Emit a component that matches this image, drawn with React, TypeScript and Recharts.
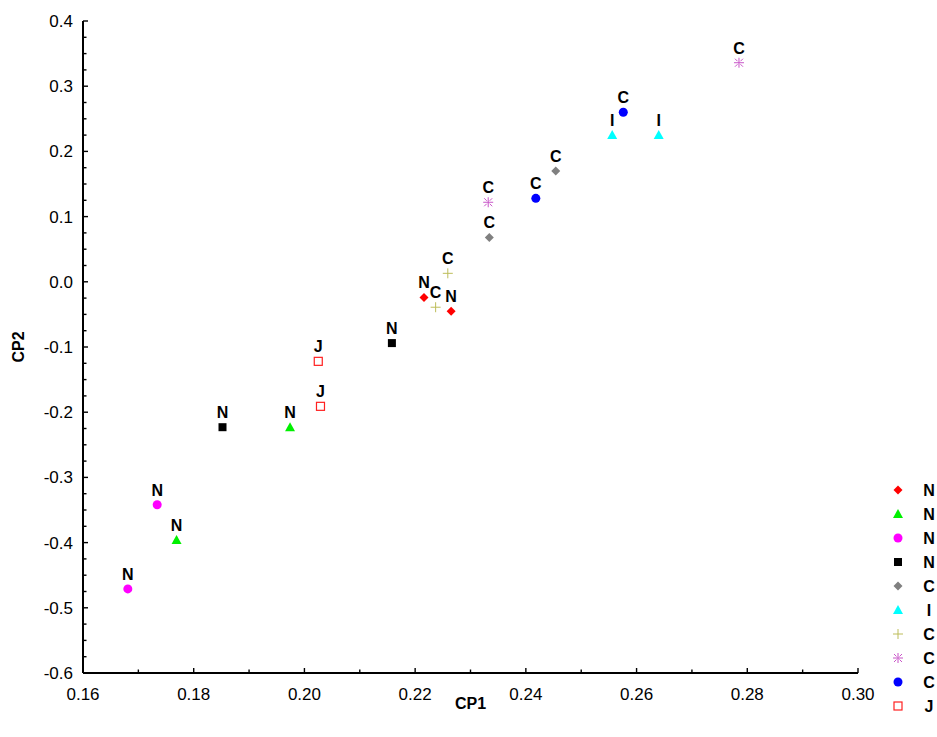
import React from 'react';
import { ScatterChart, Scatter, XAxis, YAxis, Legend, Label } from 'recharts';

const FONT = 'Liberation Sans, Arial, sans-serif';

// Tick values and labels
const xMajor = [0.16, 0.18, 0.2, 0.22, 0.24, 0.26, 0.28, 0.3];
const xMajorLabels = ['0.16', '0.18', '0.20', '0.22', '0.24', '0.26', '0.28', '0.30'];
const xMinorStep = 0.01;
const yMajor = [-0.6, -0.5, -0.4, -0.3, -0.2, -0.1, 0.0, 0.1, 0.2, 0.3, 0.4];
const yMajorLabels = ['-0.6', '-0.5', '-0.4', '-0.3', '-0.2', '-0.1', '0.0', '0.1', '0.2', '0.3', '0.4'];
const yMinorStep = 0.025;

// Series data
const redDiamondX = [0.2216, 0.2265];
const redDiamondY = [-0.024, -0.045];
const greenTriX = [0.1974, 0.1769];
const greenTriY = [-0.223, -0.396];
const magentaCircX = [0.1734, 0.1681];
const magentaCircY = [-0.342, -0.471];
const blackSqX = [0.1852, 0.2158];
const blackSqY = [-0.223, -0.094];
const grayDiaX = [0.2334, 0.2454];
const grayDiaY = [0.068, 0.17];
const cyanTriX = [0.2556, 0.264];
const cyanTriY = [0.225, 0.225];
const olivePlusX = [0.2259, 0.2237];
const olivePlusY = [0.013, -0.039];
const purpleAstX = [0.2332, 0.2785];
const purpleAstY = [0.122, 0.336];
const blueCircX = [0.2418, 0.2576];
const blueCircY = [0.128, 0.26];
const redSqX = [0.2025, 0.2029];
const redSqY = [-0.122, -0.191];

const seriesNames = ['N', 'N', 'N', 'N', 'C', 'I', 'C', 'C', 'C', 'J'];
const seriesShapes = ['diamond', 'triangle', 'circle', 'square', 'diamond', 'triangle', 'plus', 'asterisk', 'circle', 'hollowSquare'];
const seriesColors = ['#FF0000', '#00F000', '#FF00FF', '#000000', '#808080', '#00FFFF', '#BDBD5A', '#C855C8', '#0000FF', '#FF2020'];
const seriesX = [redDiamondX, greenTriX, magentaCircX, blackSqX, grayDiaX, cyanTriX, olivePlusX, purpleAstX, blueCircX, redSqX];
const seriesY = [redDiamondY, greenTriY, magentaCircY, blackSqY, grayDiaY, cyanTriY, olivePlusY, purpleAstY, blueCircY, redSqY];

const buildTicks = (major: number[], step: number) => {
  const out: number[] = [];
  for (let i = 0; i < major.length; i++) {
    out.push(major[i]);
    if (i < major.length - 1) {
      const n = Math.round((major[i + 1] - major[i]) / step);
      for (let k = 1; k < n; k++) out.push(Math.round((major[i] + k * step) * 10000) / 10000);
    }
  }
  return out;
};
const xTicks = buildTicks(xMajor, xMinorStep);
const yTicks = buildTicks(yMajor, yMinorStep);

const majorIndex = (v: number, major: number[]) => major.findIndex((m) => Math.abs(m - v) < 1e-6);

const drawMarker = (shape: string, cx: number, cy: number, color: string) => {
  switch (shape) {
    case 'diamond':
      return <polygon points={`${cx},${cy - 4.5} ${cx + 4.5},${cy} ${cx},${cy + 4.5} ${cx - 4.5},${cy}`} fill={color} />;
    case 'triangle':
      return <polygon points={`${cx},${cy - 5} ${cx + 5},${cy + 4} ${cx - 5},${cy + 4}`} fill={color} />;
    case 'circle':
      return <circle cx={cx} cy={cy} r={4.5} fill={color} />;
    case 'square':
      return <rect x={cx - 4} y={cy - 4} width={8} height={8} fill={color} />;
    case 'hollowSquare':
      return <rect x={cx - 4} y={cy - 4} width={8} height={8} fill="#fff" stroke={color} strokeWidth={1.2} />;
    case 'plus':
      return (
        <g stroke={color} strokeWidth={1}>
          <line x1={cx - 5} x2={cx + 5} y1={cy} y2={cy} />
          <line x1={cx} x2={cx} y1={cy - 5} y2={cy + 5} />
        </g>
      );
    case 'asterisk':
      return (
        <g stroke={color} strokeWidth={1}>
          <line x1={cx - 5} x2={cx + 5} y1={cy} y2={cy} />
          <line x1={cx} x2={cx} y1={cy - 5} y2={cy + 5} />
          <line x1={cx - 4} x2={cx - 1.5} y1={cy - 4} y2={cy - 1.5} />
          <line x1={cx + 1.5} x2={cx + 4} y1={cy + 1.5} y2={cy + 4} />
          <line x1={cx + 4} x2={cx + 1.5} y1={cy - 4} y2={cy - 1.5} />
          <line x1={cx - 1.5} x2={cx - 4} y1={cy + 1.5} y2={cy + 4} />
        </g>
      );
    default:
      return null;
  }
};

const makeShape = (idx: number) => (props: any) => {
  const { cx, cy } = props;
  if (cx == null || cy == null) return <g />;
  return (
    <g>
      {drawMarker(seriesShapes[idx], cx, cy, seriesColors[idx])}
      <text x={cx} y={cy - 9} textAnchor="middle" fontFamily={FONT} fontWeight="bold" fontSize={16} fill="#000">
        {seriesNames[idx]}
      </text>
    </g>
  );
};

const TICK_W = 1.4;

const BottomTick = (props: any) => {
  const { x, y, payload } = props;
  const mi = majorIndex(payload.value, xMajor);
  return (
    <g>
      <line x1={x} x2={x} y1={y} y2={y - (mi >= 0 ? 5 : 3.5)} stroke="#000" strokeWidth={TICK_W} />
      {mi >= 0 && (
        <text x={x} y={y + 27} textAnchor="middle" fontFamily={FONT} fontSize={17} fill="#000">
          {xMajorLabels[mi]}
        </text>
      )}
    </g>
  );
};
const TopTick = (props: any) => {
  const { x, y, payload } = props;
  const mi = majorIndex(payload.value, xMajor);
  return <line x1={x} x2={x} y1={y} y2={y + (mi >= 0 ? 5 : 3.5)} stroke="#000" strokeWidth={TICK_W} />;
};
const LeftTick = (props: any) => {
  const { x, y, payload } = props;
  const mi = majorIndex(payload.value, yMajor);
  return (
    <g>
      <line x1={x} x2={x + (mi >= 0 ? 5 : 3.5)} y1={y} y2={y} stroke="#000" strokeWidth={TICK_W} />
      {mi >= 0 && (
        <text x={x - 10} y={y + 6} textAnchor="end" fontFamily={FONT} fontSize={17} fill="#000">
          {yMajorLabels[mi]}
        </text>
      )}
    </g>
  );
};
const RightTick = (props: any) => {
  const { x, y, payload } = props;
  const mi = majorIndex(payload.value, yMajor);
  return <line x1={x} x2={x - (mi >= 0 ? 5 : 3.5)} y1={y} y2={y} stroke="#000" strokeWidth={TICK_W} />;
};

const LegendBox = () => (
  <svg width={52} height={245} style={{ display: 'block' }}>
    {seriesNames.map((name, i) => {
      const cy = 12 + i * 24;
      return (
        <g key={i}>
          {drawMarker(seriesShapes[i], 13, cy, seriesColors[i])}
          <text x={44} y={cy + 6} textAnchor="middle" fontFamily={FONT} fontWeight="bold" fontSize={16} fill="#000">
            {name}
          </text>
        </g>
      );
    })}
  </svg>
);

const axisLine = { stroke: '#000', strokeWidth: 2 };

export default function App() {
  return (
    <div style={{ position: 'absolute', left: 0, top: 0, width: 937, height: 737, background: '#fff' }}>
      <ScatterChart width={937} height={737} margin={{ top: 21, right: 79, bottom: 24, left: 23 }}>
        <XAxis
          xAxisId={0}
          type="number"
          dataKey="x"
          domain={[0.16, 0.3]}
          ticks={xTicks}
          interval={0}
          allowDataOverflow
          height={40}
          tickSize={0}
          tickMargin={0}
          stroke="#000"
          axisLine={axisLine}
          tickLine={false}
          tick={<BottomTick />}
        >
          <Label
            content={(p: any) => {
              const vb = p.viewBox || {};
              return (
                <text x={vb.x + vb.width / 2} y={709} textAnchor="middle" fontFamily={FONT} fontWeight="bold" fontSize={16} fill="#000">
                  CP1
                </text>
              );
            }}
          />
        </XAxis>
        <XAxis
          xAxisId="top"
          orientation="top"
          type="number"
          dataKey="x"
          domain={[0.16, 0.3]}
          ticks={xTicks}
          interval={0}
          allowDataOverflow
          height={0}
          tickSize={0}
          tickMargin={0}
          stroke="#000"
          axisLine={axisLine}
          tickLine={false}
          tick={<TopTick />}
        />
        <YAxis
          yAxisId={0}
          type="number"
          dataKey="y"
          domain={[-0.6, 0.4]}
          ticks={yTicks}
          interval={0}
          allowDataOverflow
          width={60}
          tickSize={0}
          tickMargin={0}
          stroke="#000"
          axisLine={axisLine}
          tickLine={false}
          tick={<LeftTick />}
        >
          <Label
            content={(p: any) => {
              const vb = p.viewBox || {};
              const cy = vb.y + vb.height / 2;
              return (
                <text x={24} y={cy} transform={`rotate(-90 24 ${cy})`} textAnchor="middle" fontFamily={FONT} fontWeight="bold" fontSize={16} fill="#000">
                  CP2
                </text>
              );
            }}
          />
        </YAxis>
        <YAxis
          yAxisId="right"
          orientation="right"
          type="number"
          dataKey="y"
          domain={[-0.6, 0.4]}
          ticks={yTicks}
          interval={0}
          allowDataOverflow
          width={0}
          tickSize={0}
          tickMargin={0}
          stroke="#000"
          axisLine={axisLine}
          tickLine={false}
          tick={<RightTick />}
        />
        <Legend
          layout="vertical"
          align="center"
          verticalAlign="middle"
          wrapperStyle={{ left: 885, top: 478, width: 52, height: 245 }}
          content={() => <LegendBox />}
        />
        {seriesNames.map((name, i) => (
          <Scatter
            key={i}
            name={name}
            xAxisId={0}
            yAxisId={0}
            data={seriesX[i].map((x, j) => ({ x, y: seriesY[i][j] }))}
            shape={makeShape(i)}
            isAnimationActive={false}
          />
        ))}
      </ScatterChart>
    </div>
  );
}
